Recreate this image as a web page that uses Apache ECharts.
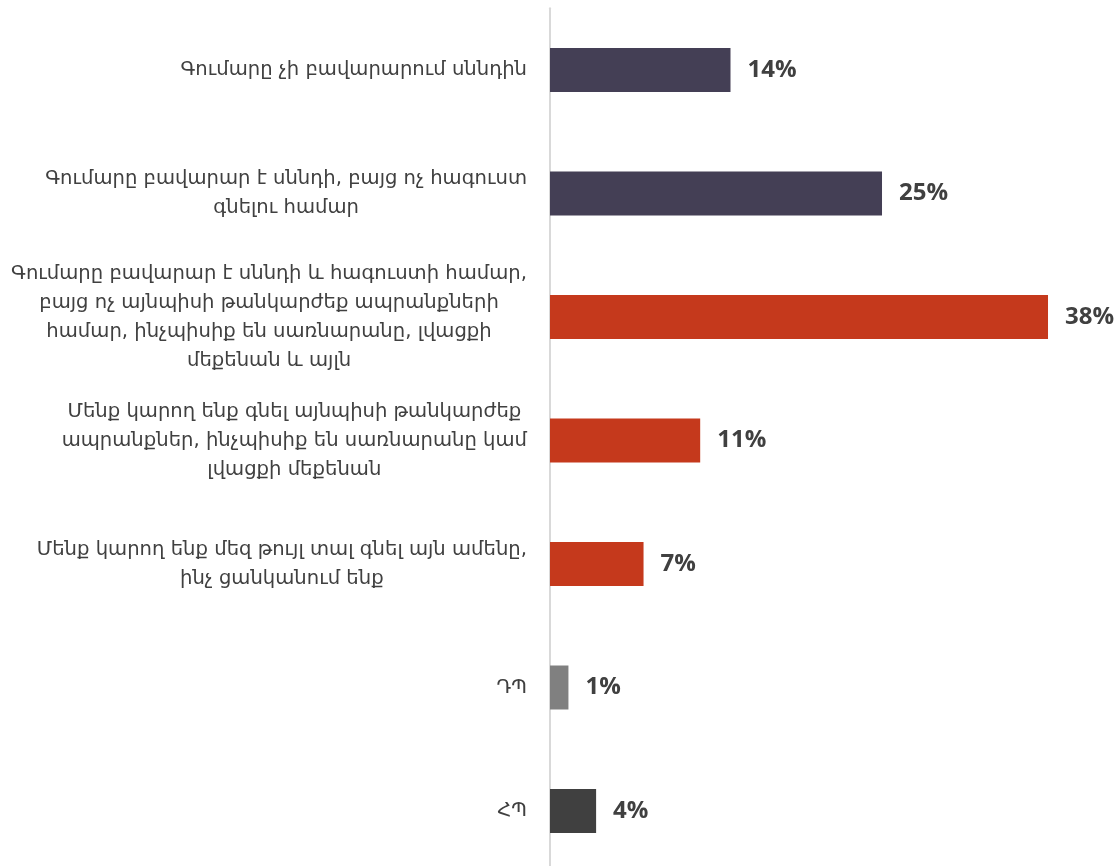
<!DOCTYPE html>
<html>
<head>
<meta charset="utf-8">
<script src="https://cdn.jsdelivr.net/npm/echarts@6/dist/echarts.min.js"></script>
<style>
html,body{margin:0;padding:0;background:#fff;}
#chart{width:1120px;height:866px;}
</style>
</head>
<body>
<div id="chart"></div>
<script>
const categories = [
  'Գումարը չի բավարարում սննդին',
  'Գումարը բավարար է սննդի, բայց ոչ հագուստ\nգնելու համար',
  'Գումարը բավարար է սննդի և հագուստի համար,\nբայց ոչ այնպիսի թանկարժեք ապրանքների\nհամար, ինչպիսիք են սառնարանը, լվացքի\nմեքենան և այլն',
  'Մենք կարող ենք գնել այնպիսի թանկարժեք\nապրանքներ, ինչպիսիք են սառնարանը կամ\nլվացքի մեքենան',
  'Մենք կարող ենք մեզ թույլ տալ գնել այն ամենը,\nինչ ցանկանում ենք',
  'ԴՊ',
  'ՀՊ'
];
const values = [13.7, 25.2, 37.8, 11.4, 7.1, 1.4, 3.5];
const barColors = ['#443f55', '#443f55', '#c5391c', '#c5391c', '#c5391c', '#808080', '#404040'];

const chart = echarts.init(document.getElementById('chart'));
chart.setOption({
  backgroundColor: '#ffffff',
  animation: false,
  grid: { left: 550, right: 43, top: 8.25, height: 864.5, containLabel: false, outerBoundsMode: 'none' },
  xAxis: {
    type: 'value', min: 0, max: 40,
    show: false
  },
  yAxis: {
    type: 'category',
    inverse: true,
    data: categories,
    axisLine: { show: true, lineStyle: { color: '#d9d9d9', width: 2 } },
    axisTick: { show: false },
    axisLabel: {
      margin: 23,
      align: 'right',
      formatter: function (v) {
        return v.split('\n').map(function (l) { return '{c|' + l + '}'; }).join('\n');
      },
      rich: {
        c: { align: 'center', fontFamily: 'DejaVu Sans', fontSize: 19.6, color: '#404040', lineHeight: 29 }
      }
    }
  },
  series: [{
    type: 'bar',
    barWidth: 44,
    data: values.map(function (v, i) { return { value: v, itemStyle: { color: barColors[i] } }; }),
    label: {
      show: true,
      position: 'right',
      distance: 17,
      fontFamily: 'Open Sans',
      fontWeight: 'bold',
      fontSize: 24,
      color: '#404040',
      formatter: function (p) { return Math.round(p.value) + '%'; }
    }
  }]
});
</script>
</body>
</html>
